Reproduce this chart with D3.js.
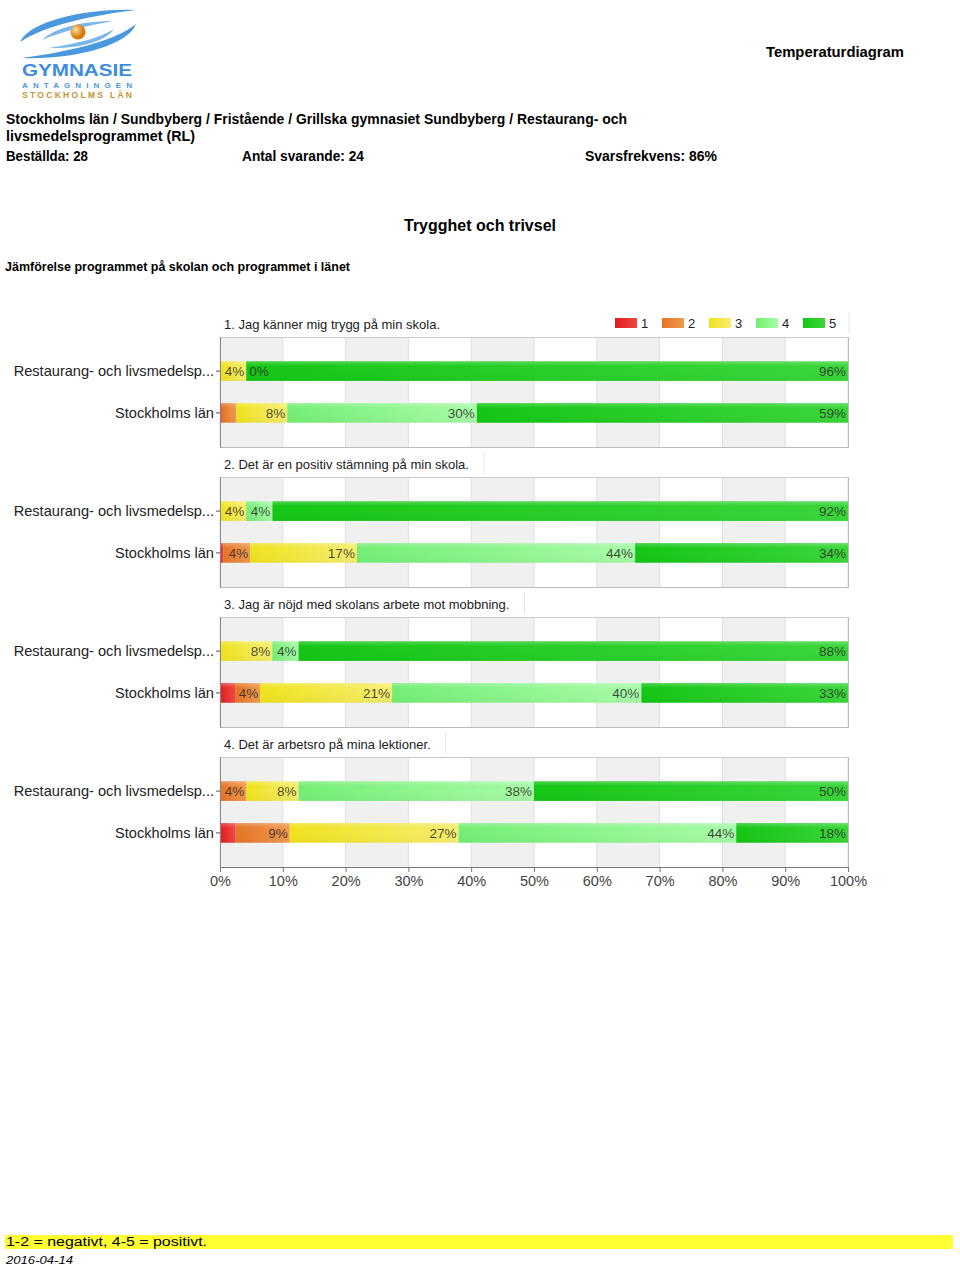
<!DOCTYPE html>
<html>
<head>
<meta charset="utf-8">
<script src="https://cdn.jsdelivr.net/npm/d3@7"></script>
<style>
  body { margin: 0; background: #fff; }
  svg { display: block; font-family: "Liberation Sans", Arial, sans-serif; }
</style>
</head>
<body>
<div id="chart"></div>
<script>
// ---- data ----
var categories = ["Restaurang- och livsmedelsp...", "Stockholms län"];
var questions = [
  "1. Jag känner mig trygg på min skola.",
  "2. Det är en positiv stämning på min skola.",
  "3. Jag är nöjd med skolans arbete mot mobbning.",
  "4. Det är arbetsro på mina lektioner."
];
var scaleLabels = ["1", "2", "3", "4", "5"];
// percent per answer 1..5 (24 answers for the programme)
var programValues = [
  [0, 0, 4.17, 0, 95.83],
  [0, 0, 4.17, 4.17, 91.67],
  [0, 0, 8.33, 4.17, 87.5],
  [0, 4.17, 8.33, 37.5, 50]
];
var countyValues = [
  [0.3, 2.3, 8.1, 30.2, 59.1],
  [0.5, 4.3, 17.0, 44.3, 33.9],
  [2.4, 4.0, 21.0, 39.7, 32.9],
  [2.5, 8.6, 26.9, 44.2, 17.8]
];
var programLabels = [
  ["", "", "4%", "0%", "96%"],
  ["", "", "4%", "4%", "92%"],
  ["", "", "8%", "4%", "88%"],
  ["", "4%", "8%", "38%", "50%"]
];
var countyLabels = [
  ["", "", "8%", "30%", "59%"],
  ["", "4%", "17%", "44%", "34%"],
  ["", "4%", "21%", "40%", "33%"],
  ["", "9%", "27%", "44%", "18%"]
];
var xTicks = [0, 10, 20, 30, 40, 50, 60, 70, 80, 90, 100];

var W = 960, H = 1265;
var svg = d3.select("#chart").append("svg").attr("width", W).attr("height", H);
var defs = svg.append("defs");

// bar colours (base, light end)
var colors = [
  ["#e21a1a", "#f04848"],
  ["#e47424", "#f09a50"],
  ["#f0e21c", "#f6ee70"],
  ["#74ee74", "#a8fca8"],
  ["#14c614", "#3ad63a"]
];
colors.forEach(function(c, i) {
  var g = defs.append("linearGradient").attr("id", "grad" + i)
    .attr("x1", 0).attr("x2", 1).attr("y1", 0).attr("y2", 0);
  g.append("stop").attr("offset", "0%").attr("stop-color", c[0]);
  g.append("stop").attr("offset", "100%").attr("stop-color", c[1]);
});
var shine = defs.append("linearGradient").attr("id", "shine")
  .attr("x1", 0).attr("x2", 0).attr("y1", 0).attr("y2", 1);
shine.append("stop").attr("offset", "0%").attr("stop-color", "#fff").attr("stop-opacity", 0.25);
shine.append("stop").attr("offset", "25%").attr("stop-color", "#fff").attr("stop-opacity", 0.0);
shine.append("stop").attr("offset", "100%").attr("stop-color", "#000").attr("stop-opacity", 0.03);

// ---- logo ----
function drawLogo() {
  var logo = svg.append("g");
  var rg = defs.append("radialGradient").attr("id", "ball").attr("cx", "35%").attr("cy", "35%");
  rg.append("stop").attr("offset", "0%").attr("stop-color", "#ffe0a0");
  rg.append("stop").attr("offset", "100%").attr("stop-color", "#d77a10");
  logo.append("path").attr("d", "M20 42 C30 20 90 8 136 10 C95 15 45 25 20 42 Z").attr("fill", "#4a98de");
  logo.append("path").attr("d", "M136 24 C128 46 72 60 22 58 C66 52 114 42 136 24 Z").attr("fill", "#4a98de");
  logo.append("path").attr("d", "M42 40 C55 27 86 21 112 21 C88 26 62 31 42 40 Z").attr("fill", "#7ab6ea");
  logo.append("path").attr("d", "M114 29 C106 41 80 49 48 48 C76 44 100 38 114 29 Z").attr("fill", "#7ab6ea");
  logo.append("circle").attr("cx", 78).attr("cy", 32).attr("r", 7.5).attr("fill", "url(#ball)");
  logo.append("text").attr("x", 22).attr("y", 76).text("GYMNASIE")
    .attr("textLength", 110).attr("lengthAdjust", "spacingAndGlyphs")
    .style("font-size", "16px").style("font-weight", "bold").attr("fill", "#3d8ddc");
  logo.append("text").attr("x", 22).attr("y", 87.5).text("ANTAGNINGEN")
    .attr("textLength", 110).style("font-size", "8px").style("font-weight", "bold").attr("fill", "#4a98de");
  logo.append("text").attr("x", 22).attr("y", 97.5).text("STOCKHOLMS LÄN")
    .attr("textLength", 110).style("font-size", "8.5px").style("font-weight", "bold").attr("fill", "#c8922e");
}
drawLogo();

// ---- header texts (condensed look via textLength) ----
function headText(x, y, str, len, size, opts) {
  opts = opts || {};
  var t = svg.append("text").attr("x", x).attr("y", y).text(str)
    .attr("textLength", len).attr("lengthAdjust", "spacingAndGlyphs")
    .style("font-size", size + "px")
    .style("font-weight", opts.normal ? "normal" : "bold")
    .style("font-style", opts.italic ? "italic" : "normal")
    .attr("fill", "#000");
  return t;
}
headText(766, 57, "Temperaturdiagram", 138, 15);
headText(6, 124, "Stockholms län / Sundbyberg / Fristående / Grillska gymnasiet Sundbyberg / Restaurang- och", 621, 14);
headText(6, 141, "livsmedelsprogrammet (RL)", 189, 14);
headText(6, 161, "Beställda: 28", 82, 14);
headText(242, 161, "Antal svarande: 24", 122, 14);
headText(585, 161, "Svarsfrekvens: 86%", 132, 14);
headText(404, 231, "Trygghet och trivsel", 152, 17);
headText(5, 271, "Jämförelse programmet på skolan och programmet i länet", 345, 13);

// ---- chart ----
var x0 = 220, x1 = 848;
var xScale = d3.scaleLinear().domain([0, 100]).range([x0, x1]);
var panelTop = 337, panelStep = 140, plotH = 110;
var yScale = d3.scaleBand().domain(categories).range([0, plotH]).paddingInner(0.53).paddingOuter(0.58);

function drawPanel(qi) {
  var top = panelTop + qi * panelStep;
  var g = svg.append("g").attr("transform", "translate(0," + top + ")");

  // alternating bands
  var bands = d3.range(0, 100, 10);
  g.selectAll(".band").data(bands).enter().append("rect")
    .attr("x", function(d) { return xScale(d); })
    .attr("y", 0)
    .attr("width", function(d) { return xScale(d + 10) - xScale(d); })
    .attr("height", plotH)
    .attr("fill", function(d, i) { return i % 2 === 0 ? "#f0f0f0" : "#fff"; });
  g.selectAll(".grid").data(xTicks).enter().append("line")
    .attr("x1", function(d) { return xScale(d); }).attr("x2", function(d) { return xScale(d); })
    .attr("y1", 0).attr("y2", plotH)
    .attr("stroke", "#dedede");
  g.append("line").attr("x1", x0).attr("x2", x1).attr("y1", 0.5).attr("y2", 0.5).attr("stroke", "#ccc");
  g.append("line").attr("x1", x1 + 0.5).attr("x2", x1 + 0.5).attr("y1", 0).attr("y2", plotH).attr("stroke", "#bbb");
  g.append("line").attr("x1", x0).attr("x2", x1 + 1).attr("y1", plotH + 0.5).attr("y2", plotH + 0.5)
    .attr("stroke", qi === 3 ? "#777" : "#bbb");

  var rows = [
    { cat: categories[0], vals: programValues[qi], labels: programLabels[qi] },
    { cat: categories[1], vals: countyValues[qi], labels: countyLabels[qi] }
  ];
  rows.forEach(function(r) {
    var y = yScale(r.cat), bh = yScale.bandwidth();
    var acc = 0;
    var segs = r.vals.map(function(v, i) {
      var s = { i: i, start: acc, end: acc + v, label: r.labels[i] };
      acc += v;
      return s;
    });
    g.selectAll(null).data(segs.filter(function(s) { return s.end > s.start; })).enter().append("rect")
      .attr("x", function(s) { return xScale(s.start); })
      .attr("y", y)
      .attr("width", function(s) { return xScale(s.end) - xScale(s.start); })
      .attr("height", bh)
      .attr("fill", function(s) { return "url(#grad" + s.i + ")"; });
    g.append("rect").attr("x", x0).attr("y", y).attr("width", xScale(acc) - x0).attr("height", bh)
      .attr("fill", "url(#shine)");
    segs.forEach(function(s) {
      if (!s.label) return;
      var t = g.append("text").text(s.label)
        .attr("y", y + bh / 2 + 5)
        .style("font-size", "13.5px")
        .attr("text-anchor", "end")
        .attr("fill", "#2a2a2a").attr("fill-opacity", 0.85);
      var tw = t.node().getComputedTextLength();
      var xe = Math.max(xScale(s.end) - 2, xScale(s.start) + 3 + tw);
      t.attr("x", xe);
    });
    // category label and tick
    g.append("line").attr("x1", x0 - 4).attr("x2", x0).attr("y1", y + bh / 2).attr("y2", y + bh / 2).attr("stroke", "#555");
    g.append("text").attr("x", x0 - 6).attr("y", y + bh / 2 + 5)
      .attr("text-anchor", "end").style("font-size", "14.6px").attr("fill", "#222").text(r.cat);
  });
  g.append("line").attr("x1", x0 + 0.5).attr("x2", x0 + 0.5).attr("y1", 0).attr("y2", plotH + 1).attr("stroke", "#888");

  // question title with its faint box edge
  var title = g.append("text").attr("x", x0 + 4).attr("y", -8)
    .style("font-size", "13px").attr("fill", "#222").text(questions[qi]);
  var tl = title.node().getComputedTextLength();
  var edge = qi === 0 ? x1 + 1 : x0 + 4 + tl + 15;
  g.append("line").attr("x1", edge).attr("x2", edge).attr("y1", -25).attr("y2", -3).attr("stroke", "#e6e6e6");

  if (qi === 0) {
    // legend
    var lx = d3.scaleLinear().domain([0, 4]).range([615, 803]);
    var lg = g.selectAll(".leg").data(scaleLabels).enter().append("g");
    lg.append("rect").attr("x", function(d, i) { return lx(i); }).attr("y", -19)
      .attr("width", 22).attr("height", 10)
      .attr("fill", function(d, i) { return "url(#grad" + i + ")"; });
    lg.append("text").attr("x", function(d, i) { return lx(i) + 26; }).attr("y", -9)
      .style("font-size", "13px").attr("fill", "#222").text(function(d) { return d; });
  }
  if (qi === 3) {
    var xAxis = d3.axisBottom(xScale).tickValues(xTicks).tickSize(4).tickPadding(4)
      .tickFormat(function(d) { return d + "%"; });
    var ax = g.append("g").attr("transform", "translate(0," + (plotH + 1) + ")").call(xAxis);
    ax.select(".domain").remove();
    ax.selectAll("line").attr("stroke", "#777");
    ax.selectAll("text").style("font-size", "14.5px").style("font-family", "Liberation Sans, Arial, sans-serif").attr("fill", "#444");
  }
}
questions.forEach(function(q, i) { drawPanel(i); });

// ---- footer ----
svg.append("rect").attr("x", 5).attr("y", 1235).attr("width", 948).attr("height", 14).attr("fill", "#ffff33");
headText(6, 1246, "1-2 = negativt, 4-5 = positivt.", 201, 12, { normal: true });
headText(6, 1264, "2016-04-14", 67, 11, { normal: true, italic: true });
</script>
</body>
</html>
